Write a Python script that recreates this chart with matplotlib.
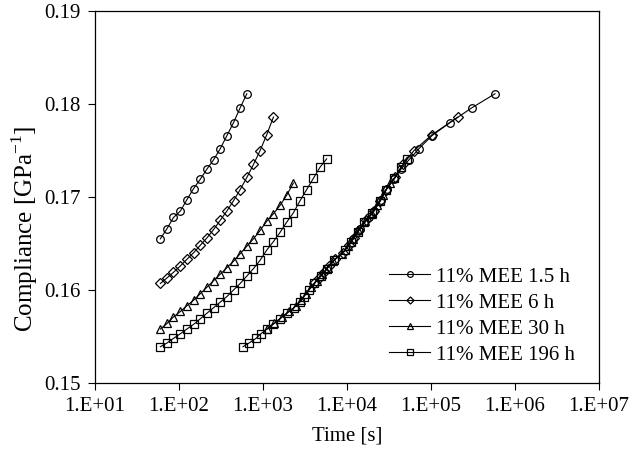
import matplotlib
matplotlib.use("Agg")
import matplotlib.pyplot as plt
from matplotlib.ticker import FixedLocator, FixedFormatter

plt.rcParams["font.family"] = ["Liberation Serif", "DejaVu Serif"]
plt.rcParams["mathtext.fontset"] = "custom"
plt.rcParams["mathtext.rm"] = "Liberation Serif"

# measurement times [s] (shared by all series, each series is a prefix)
time_s = [60, 72, 86, 104, 124, 149, 179, 215, 258, 310, 372, 446, 535, 642,
          770, 924, 1109, 1331, 1597, 1916, 2300, 2760, 3312, 3974, 4769, 5723]

labels = ["11% MEE 1.5 h", "11% MEE 6 h", "11% MEE 30 h", "11% MEE 196 h"]
markers = ["o", "D", "^", "s"]

# compliance [GPa^-1]
c_15h = [0.1655, 0.1666, 0.1678, 0.1685, 0.1697, 0.1709, 0.1719, 0.1730,
         0.1740, 0.1752, 0.1766, 0.1780, 0.1796, 0.1811]
c_6h = [0.1607, 0.1613, 0.1619, 0.1626, 0.1633, 0.1640, 0.1648, 0.1656, 0.1665,
        0.1675, 0.1685, 0.1696, 0.1708, 0.1721, 0.1735, 0.1750, 0.1767, 0.1786]
c_30h = [0.1558, 0.1564, 0.1571, 0.1577, 0.1583, 0.1589, 0.1596, 0.1603, 0.1610,
         0.1617, 0.1624, 0.1631, 0.1639, 0.1647, 0.1655, 0.1664, 0.1674, 0.1682,
         0.1691, 0.1702, 0.1715]
c_196h = [0.1539, 0.1543, 0.1548, 0.1553, 0.1558, 0.1563, 0.1569, 0.1575, 0.1581,
          0.1587, 0.1593, 0.1600, 0.1607, 0.1615, 0.1623, 0.1632, 0.1643, 0.1652,
          0.1662, 0.1673, 0.1683, 0.1696, 0.1708, 0.1720, 0.1732, 0.1741]
compliance = [c_15h, c_6h, c_30h, c_196h]

# superposed (effective) times [s] of the same points on the master curve
tm_15h = [11780, 14290, 18290, 20940, 25410, 29920, 36300, 43950, 54700,
          71900, 102800, 168300, 307600, 578000]
tm_6h = [4047, 4645, 5323, 6110, 7200, 8960, 10570, 12110, 13900, 16830,
         20940, 24720, 29130, 37240, 46450, 62800, 102800, 209400]
tm_30h = [1116, 1352, 1683, 2041, 2472, 2834, 3250, 3724, 4395, 5038, 5940,
          6810, 8710, 10280, 11780, 13520, 16370, 19860, 22750, 26850, 32510]
tm_196h = [578, 681, 826, 946, 1116, 1315, 1593, 1931, 2339, 2755, 3076, 3532,
           4047, 4900, 5777, 7000, 9460, 11170, 13520, 15930, 19860, 24720,
           29130, 36300, 43950, 51780]
master_time = [tm_15h, tm_6h, tm_30h, tm_196h]

fig = plt.figure(figsize=(6.42, 4.53), dpi=100)
ax = fig.add_axes([95 / 642, 1 - 383 / 453, 504 / 642, 372 / 453])

for lab, mk, c, tm in zip(labels, markers, compliance, master_time):
    t = time_s[:len(c)]
    style = dict(color="black", lw=0.8, marker=mk, ms=5.5 if mk != "D" else 4.8,
                 mfc="none", mec="black", mew=0.9)
    ax.plot(t, c, label=lab, **style)
    ax.plot(tm, c, **style)

ax.set_xscale("log")
ax.set_xlim(1e1, 1e7)
ax.set_ylim(0.15, 0.19)
ax.xaxis.set_major_locator(FixedLocator([10.0 ** k for k in range(1, 8)]))
ax.xaxis.set_major_formatter(FixedFormatter([f"1.E+{k:02d}" for k in range(1, 8)]))
ax.xaxis.set_minor_locator(FixedLocator([]))
ax.set_yticks([0.15, 0.16, 0.17, 0.18, 0.19])
ax.set_yticklabels(["0.15", "0.16", "0.17", "0.18", "0.19"])
ax.tick_params(direction="out", length=5, width=0.8, labelsize=15, pad=5)
for s in ax.spines.values():
    s.set_linewidth(0.9)

fig.text(25 / 642, 1 - 229 / 453, "Compliance [GPa$^{-1}$]", rotation=90,
         ha="center", va="center", fontsize=18)
fig.text(347 / 642, 1 - 436 / 453, "Time [s]", ha="center", va="center", fontsize=15)

ax.legend(loc="upper left", bbox_to_anchor=((389 - 95) / 504, (383 - 267) / 372),
          frameon=False, fontsize=15, handlelength=1.97, handletextpad=0.29,
          labelspacing=0.31, borderpad=0, borderaxespad=0, markerscale=0.75)

fig.savefig("out.png", dpi=100)
